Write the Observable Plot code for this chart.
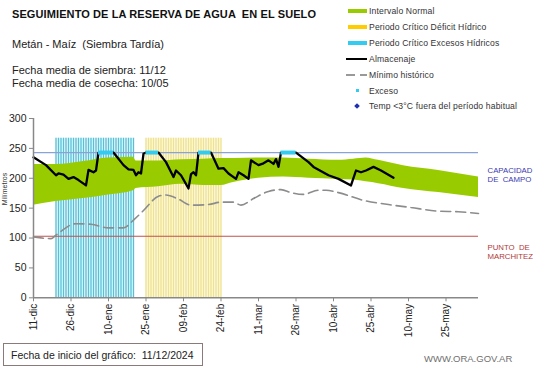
<!DOCTYPE html>
<html>
<head>
<meta charset="utf-8">
<script src="https://cdn.jsdelivr.net/npm/d3@7"></script>
<script src="https://cdn.jsdelivr.net/npm/@observablehq/plot@0.6"></script>
<style>
  html, body { margin: 0; padding: 0; background: #fff; }
  body { font-family: Arial, "Liberation Sans", sans-serif; color: #222; }
  #wrap { position: relative; width: 541px; height: 368px; overflow: hidden; background: #fff; }
  .t { position: absolute; white-space: pre; line-height: 1; }
  #title { left: 12px; top: 9px; font-size: 11px; font-weight: bold; color: #111; letter-spacing: 0.1px; }
  #sub { left: 12px; top: 39px; font-size: 11px; color: #222; }
  #f1 { left: 12px; top: 65px; font-size: 11px; color: #222; }
  #f2 { left: 12px; top: 78px; font-size: 11px; color: #222; }
  .lg { position: absolute; left: 346px; height: 14px; width: 195px; }
  .lg .sw { position: absolute; top: 50%; }
  .lg .lt { position: absolute; left: 23px; top: 50%; transform: translateY(-50%); font-size: 8.6px; color: #333; white-space: pre; letter-spacing: 0.15px; }
  #chart { position: absolute; left: 0; top: 108px; }
  #foot { position: absolute; left: 3px; top: 343px; width: 200px; height: 23px; border: 1px solid #8a7a7a; box-sizing: border-box; }
  #foot span { position: absolute; left: 7px; top: 5px; font-size: 10.5px; color: #222; white-space: pre; }
  #web { left: 424px; top: 354px; font-size: 9.5px; color: #6f6f6f; }
</style>
</head>
<body>
<div id="wrap">
  <div class="t" id="title">SEGUIMIENTO DE LA RESERVA DE AGUA  EN EL SUELO</div>
  <div class="t" id="sub">Metán - Maíz  (Siembra Tardía)</div>
  <div class="t" id="f1">Fecha media de siembra: 11/12</div>
  <div class="t" id="f2">Fecha media de cosecha: 10/05</div>
  <div id="legend"></div>
  <div id="chart"></div>
  <div id="foot"><span>Fecha de inicio del gráfico:  11/12/2024</span></div>
  <div class="t" id="web">WWW.ORA.GOV.AR</div>
</div>
<script>
// ---------- DATA ----------
const xDomain = ["2024-12-11", "2025-06-07"];
const tickDates = ["2024-12-11","2024-12-26","2025-01-10","2025-01-25","2025-02-09","2025-02-24",
                   "2025-03-11","2025-03-26","2025-04-10","2025-04-25","2025-05-10","2025-05-25"];
const tickLabels = ["11-dic","26-dic","10-ene","25-ene","09-feb","24-feb",
                    "11-mar","26-mar","10-abr","25-abr","10-may","25-may"];
const yTicks = [0, 50, 100, 150, 200, 250, 300];

// Intervalo normal
const bandDates = ["2024-12-11","2024-12-20","2024-12-31","2025-01-10","2025-01-20","2025-01-21",
                   "2025-01-30","2025-02-08","2025-02-17","2025-02-24","2025-03-01","2025-03-11",
                   "2025-03-21","2025-03-31","2025-04-12","2025-04-18","2025-04-23","2025-04-28",
                   "2025-05-08","2025-05-22","2025-06-07"];
const bandLower = [155,161,166,172,179,183,186,190,188,188,193,200,202,200,198,197,194,191,183,176,168];
const bandUpper = [223,223,228,234,235,229,229,231,232,233,233,234,234,232,230,232,234,230,221,213,202];

// Mínimo histórico
const minDates = ["2024-12-11","2024-12-18","2024-12-20","2024-12-28","2025-01-03","2025-01-10",
                  "2025-01-16","2025-01-20","2025-01-24","2025-01-30","2025-02-02","2025-02-07",
                  "2025-02-12","2025-02-19","2025-02-24","2025-03-01","2025-03-04","2025-03-09",
                  "2025-03-15","2025-03-20","2025-03-24","2025-03-29","2025-04-04","2025-04-07",
                  "2025-04-12","2025-04-22","2025-05-02","2025-05-11","2025-05-22","2025-05-30",
                  "2025-06-07"];
const minValues = [102,99,105,124,123,117,117,130,146,170,172,165,155,156,160,160,155,166,
                   178,181,176,173,180,180,176,163,156,151,145,144,141];

// Almacenaje
const almDates = ["2024-12-11","2024-12-16","2024-12-20","2024-12-21","2024-12-23","2024-12-25",
                  "2024-12-27","2024-12-29","2025-01-01","2025-01-02","2025-01-04","2025-01-05",
                  "2025-01-06","2025-01-12","2025-01-16","2025-01-18","2025-01-20","2025-01-21",
                  "2025-01-22","2025-01-23","2025-01-24","2025-01-25","2025-01-30","2025-02-02",
                  "2025-02-05","2025-02-06","2025-02-08","2025-02-11","2025-02-12","2025-02-13",
                  "2025-02-14","2025-02-15","2025-02-20","2025-02-23","2025-02-25","2025-02-27",
                  "2025-03-02","2025-03-03","2025-03-05","2025-03-07","2025-03-08","2025-03-11",
                  "2025-03-13","2025-03-15","2025-03-17","2025-03-18","2025-03-19","2025-03-20",
                  "2025-03-26","2025-03-31","2025-04-02","2025-04-08","2025-04-12","2025-04-17",
                  "2025-04-19","2025-04-21","2025-04-23","2025-04-26","2025-04-29","2025-05-04"];
const almValues = [235,222,205,208,206,199,202,197,188,214,210,213,
                   243,243,222,215,214,205,210,208,241,243,243,227,
                   202,213,205,183,207,210,205,243,243,216,217,208,
                   199,210,205,199,230,222,225,230,224,232,219,243,
                   243,227,219,205,199,188,213,210,213,219,213,201];

// Excesos (tramos en capacidad de campo)
const excesoStart = ["2025-01-06","2025-01-25","2025-02-15","2025-03-20"];
const excesoEnd   = ["2025-01-12","2025-01-30","2025-02-20","2025-03-26"];
const excesoNivel = 243;

// Periodos críticos
const periodoExcesos = ["2024-12-20", "2025-01-20"];
const periodoDeficit = ["2025-01-25", "2025-02-24"];
const alturaPeriodo = 267;

const capacidadCampo = 243;
const puntoMarchitez = 103;

// ---------- LEGEND ----------
const legendItems = [
  {label: "Intervalo Normal", kind: "bar", color: "#99cc00"},
  {label: "Periodo Crítico Déficit Hídrico", kind: "bar", color: "#ffcc00"},
  {label: "Periodo Crítico Excesos Hídricos", kind: "bar", color: "#33ccf0"},
  {label: "Almacenaje", kind: "line", color: "#000"},
  {label: "Mínimo histórico", kind: "dash", color: "#999"},
  {label: "Exceso", kind: "dot", color: "#33ccf0"},
  {label: "Temp <3°C fuera del período habitual", kind: "diamond", color: "#1f2fb0"}
];
const legendY = [11, 27, 43, 59, 74.5, 90.5, 106];
const lg = document.getElementById("legend");
legendItems.forEach((it, i) => {
  const row = document.createElement("div");
  row.className = "lg";
  row.style.top = (legendY[i] - 7) + "px";
  const sw = document.createElement("div");
  sw.className = "sw";
  if (it.kind === "bar") {
    Object.assign(sw.style, {left: "2px", width: "19px", height: "4px", marginTop: "-2px", background: it.color});
  } else if (it.kind === "line") {
    Object.assign(sw.style, {left: "0px", width: "21px", height: "2px", marginTop: "-1px", background: it.color});
  } else if (it.kind === "dash") {
    Object.assign(sw.style, {left: "0px", width: "21px", height: "0px", marginTop: "-1px",
      borderTop: "2px dashed " + it.color});
    sw.style.borderImage = "repeating-linear-gradient(90deg," + it.color + " 0 9px, transparent 9px 13px) 2";
  } else if (it.kind === "dot") {
    Object.assign(sw.style, {left: "10px", width: "3px", height: "3px", marginTop: "-1.5px", background: it.color});
  } else if (it.kind === "diamond") {
    Object.assign(sw.style, {left: "9px", width: "4px", height: "4px", marginTop: "-2px",
      background: it.color, transform: "rotate(45deg)"});
  }
  const lt = document.createElement("div");
  lt.className = "lt";
  lt.textContent = it.label;
  row.appendChild(sw);
  row.appendChild(lt);
  lg.appendChild(row);
});

// ---------- CHART ----------
const parse = d3.utcParse("%Y-%m-%d");
const band = bandDates.map((d, i) => ({date: parse(d), lo: bandLower[i], hi: bandUpper[i]}));
const minimo = minDates.map((d, i) => ({date: parse(d), v: minValues[i]}));
const alm = almDates.map((d, i) => ({date: parse(d), v: almValues[i]}));
const excesos = excesoStart.map((d, i) => ({a: parse(d), b: parse(excesoEnd[i]), v: excesoNivel}));
const dias = p => d3.utcDay.range(parse(p[0]), d3.utcDay.offset(parse(p[1]), 1));
const diasExcesos = dias(periodoExcesos);
const diasDeficit = dias(periodoDeficit);
const labelMap = new Map(tickDates.map((d, i) => [+parse(d), tickLabels[i]]));

const chart = Plot.plot({
  width: 541,
  height: 232,
  marginTop: 10,
  marginBottom: 42.7,
  marginLeft: 33,
  marginRight: 63,
  style: {fontFamily: "Arial, 'Liberation Sans', sans-serif", background: "transparent", color: "#222"},
  x: {type: "utc", domain: xDomain.map(parse)},
  y: {domain: [0, 300]},
  marks: [
    // critical periods (daily stripes)
    Plot.rectY([periodoExcesos], {x1: d => parse(d[0]), x2: d => parse(d[1]), y1: 0, y2: alturaPeriodo, fill: "#eaf7fa"}),
    Plot.rectY([periodoDeficit], {x1: d => parse(d[0]), x2: d => parse(d[1]), y1: 0, y2: alturaPeriodo, fill: "#fcf8e2"}),
    Plot.ruleX(diasExcesos, {x: d => d, y1: 0, y2: alturaPeriodo, stroke: "#52c2d9", strokeWidth: 1.3}),
    Plot.ruleX(diasDeficit, {x: d => d, y1: 0, y2: alturaPeriodo, stroke: "#efe28a", strokeWidth: 1.3}),
    // normal interval
    Plot.areaY(band, {x: "date", y1: "lo", y2: "hi", fill: "#99cc00", curve: "monotone-x"}),
    // reference lines
    Plot.ruleY([capacidadCampo], {y: d => d, stroke: "#8aa3d6", strokeWidth: 1.3}),
    Plot.ruleY([puntoMarchitez], {y: d => d, stroke: "#c0504d", strokeWidth: 1.2}),
    // historical minimum
    Plot.lineY(minimo, {x: "date", y: "v", stroke: "#8c8c8c", strokeWidth: 1.6, strokeDasharray: "10,5", curve: "monotone-x"}),
    // storage
    Plot.lineY(alm, {x: "date", y: "v", stroke: "#000", strokeWidth: 2.3, strokeLinejoin: "round"}),
    // excess stretches
    Plot.ruleY(excesos, {x1: "a", x2: "b", y: "v", stroke: "#33ccf0", strokeWidth: 4}),
    // axes
    Plot.ruleY([0], {y: d => d, stroke: "#888", strokeWidth: 1.5}),
    Plot.ruleX([parse(xDomain[0])], {x: d => d, y1: 0, y2: 300, stroke: "#888", strokeWidth: 1.5}),
    Plot.axisY(yTicks, {tickSize: 4, tickPadding: 3, stroke: "#888", fill: "#222", fontSize: 10.5, label: null}),
    Plot.axisX(tickDates.map(parse), {tickSize: 4, tickPadding: 2, tickRotate: -90, stroke: "#888", fill: "#222",
      fontSize: 10, label: null, tickFormat: d => labelMap.get(+d)}),
    Plot.text(["Milímetros"], {text: d => d, frameAnchor: "left", dx: -28.5, dy: -3, rotate: -90, fontSize: 7, fill: "#333"}),
    // side labels
    Plot.text([capacidadCampo], {y: d => d, frameAnchor: "right", dx: 9, dy: 14, textAnchor: "start", lineAnchor: "top",
      lineHeight: 1.15, text: () => "CAPACIDAD\nDE\u00a0\u00a0CAMPO", fill: "#3a3ab0", fontSize: 7.8}),
    Plot.text([puntoMarchitez], {y: d => d, frameAnchor: "right", dx: 9, dy: 7, textAnchor: "start", lineAnchor: "top",
      lineHeight: 1.15, text: () => "PUNTO\u00a0\u00a0DE\nMARCHITEZ", fill: "#b03a3a", fontSize: 7.8})
  ]
});
document.getElementById("chart").appendChild(chart);
</script>
</body>
</html>
